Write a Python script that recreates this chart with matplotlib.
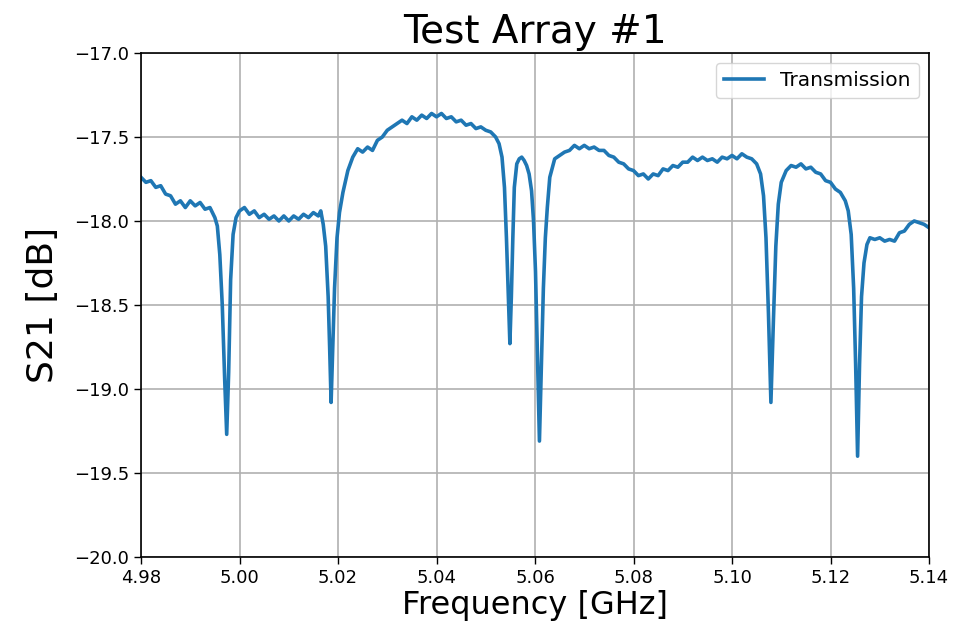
import matplotlib
matplotlib.use("Agg")
import matplotlib.pyplot as plt

freq_ghz = [
    4.980, 4.981, 4.982, 4.983, 4.984, 4.985, 4.986, 4.987, 4.988, 4.989,
    4.990, 4.991, 4.992, 4.993, 4.994, 4.995, 4.9955, 4.996, 4.9965, 4.997,
    4.9974, 4.9978, 4.9982, 4.9987, 4.9993, 5.000, 5.001, 5.002, 5.003, 5.004,
    5.005, 5.006, 5.007, 5.008, 5.009, 5.010, 5.011, 5.012, 5.013, 5.014,
    5.015, 5.016, 5.0165, 5.017, 5.0175, 5.018, 5.0183, 5.0186, 5.0189, 5.0193,
    5.0198, 5.0203, 5.021, 5.022, 5.023, 5.024, 5.025, 5.026, 5.027, 5.028,
    5.029, 5.030, 5.031, 5.032, 5.033, 5.034, 5.035, 5.036, 5.037, 5.038,
    5.039, 5.040, 5.041, 5.042, 5.043, 5.044, 5.045, 5.046, 5.047, 5.048,
    5.049, 5.050, 5.051, 5.052, 5.0527, 5.0533, 5.0538, 5.0542, 5.0546, 5.0549,
    5.0552, 5.0555, 5.0558, 5.0563, 5.0568, 5.0573, 5.0578, 5.0583, 5.0588, 5.0593,
    5.0597, 5.0601, 5.0605, 5.0609, 5.0613, 5.0617, 5.0621, 5.0625, 5.063, 5.064,
    5.065, 5.066, 5.067, 5.068, 5.069, 5.070, 5.071, 5.072, 5.073, 5.074,
    5.075, 5.076, 5.077, 5.078, 5.079, 5.080, 5.081, 5.082, 5.083, 5.084,
    5.085, 5.086, 5.087, 5.088, 5.089, 5.090, 5.091, 5.092, 5.093, 5.094,
    5.095, 5.096, 5.097, 5.098, 5.099, 5.100, 5.101, 5.102, 5.103, 5.104,
    5.105, 5.1058, 5.1064, 5.1069, 5.1074, 5.1079, 5.1084, 5.1089, 5.1094, 5.1100,
    5.111, 5.112, 5.113, 5.114, 5.115, 5.116, 5.117, 5.118, 5.119, 5.120,
    5.121, 5.122, 5.123, 5.1236, 5.1242, 5.1247, 5.1251, 5.1255, 5.1259, 5.1263,
    5.1268, 5.1274, 5.128, 5.129, 5.130, 5.131, 5.132, 5.133, 5.134, 5.135,
    5.136, 5.137, 5.138, 5.139, 5.140,
]

s21_db = [
    -17.74, -17.77, -17.76, -17.80, -17.79, -17.84, -17.85, -17.90, -17.88, -17.92,
    -17.88, -17.91, -17.89, -17.93, -17.92, -17.98, -18.03, -18.20, -18.50, -18.95,
    -19.27, -18.90, -18.35, -18.08, -17.98, -17.94, -17.92, -17.96, -17.94, -17.98,
    -17.96, -17.99, -17.97, -18.00, -17.97, -18.00, -17.97, -17.99, -17.96, -17.98,
    -17.95, -17.97, -17.94, -18.02, -18.15, -18.45, -18.75, -19.08, -18.78, -18.40,
    -18.10, -17.95, -17.83, -17.70, -17.62, -17.57, -17.59, -17.56, -17.58, -17.52,
    -17.50, -17.46, -17.44, -17.42, -17.40, -17.42, -17.38, -17.40, -17.37, -17.39,
    -17.36, -17.38, -17.36, -17.39, -17.38, -17.41, -17.40, -17.43, -17.42, -17.45,
    -17.44, -17.46, -17.47, -17.50, -17.54, -17.62, -17.80, -18.10, -18.45, -18.73,
    -18.45, -18.10, -17.80, -17.66, -17.63, -17.62, -17.64, -17.67, -17.72, -17.82,
    -18.00, -18.30, -18.80, -19.31, -18.85, -18.40, -18.10, -17.92, -17.74, -17.63,
    -17.61, -17.59, -17.58, -17.55, -17.57, -17.55, -17.57, -17.56, -17.58, -17.58,
    -17.61, -17.62, -17.65, -17.66, -17.69, -17.70, -17.73, -17.72, -17.75, -17.72,
    -17.73, -17.69, -17.70, -17.67, -17.68, -17.65, -17.65, -17.62, -17.64, -17.62,
    -17.64, -17.63, -17.65, -17.62, -17.63, -17.61, -17.63, -17.60, -17.62, -17.63,
    -17.66, -17.72, -17.85, -18.10, -18.55, -19.08, -18.60, -18.15, -17.90, -17.77,
    -17.70, -17.67, -17.68, -17.66, -17.69, -17.68, -17.71, -17.72, -17.76, -17.77,
    -17.81, -17.83, -17.88, -17.94, -18.08, -18.40, -18.85, -19.40, -18.85, -18.45,
    -18.25, -18.14, -18.10, -18.11, -18.10, -18.12, -18.11, -18.12, -18.07, -18.06,
    -18.02, -18.00, -18.01, -18.02, -18.04,
]

x_ticks = [4.98, 5.00, 5.02, 5.04, 5.06, 5.08, 5.10, 5.12, 5.14]
y_ticks = [-20.0, -19.5, -19.0, -18.5, -18.0, -17.5, -17.0]

fig = plt.figure(figsize=(9.54, 6.24), dpi=100)
ax = fig.add_axes([0.1478, 0.1074, 0.8260, 0.8077])

ax.plot(freq_ghz, s21_db, color="#1f77b4", linewidth=2.6, label="Transmission")

ax.set_xlim(4.98, 5.14)
ax.set_ylim(-20.0, -17.0)
ax.set_xticks(x_ticks)
ax.set_xticklabels([f"{v:.2f}" for v in x_ticks])
ax.set_yticks(y_ticks)
ax.set_yticklabels([f"{v:.1f}".replace("-", "\u2212") for v in y_ticks])
ax.tick_params(labelsize=13, length=5, width=1)
ax.grid(True, color="#b0b0b0", linewidth=1.2)
for s in ax.spines.values():
    s.set_linewidth(1.2)

ax.set_title("Test Array #1", fontsize=28, pad=7)
ax.set_xlabel("Frequency [GHz]", fontsize=23, labelpad=2)
ax.set_ylabel("S21 [dB]", fontsize=26, labelpad=10)
ax.legend(loc="upper right", fontsize=14.5)

fig.savefig("out.png", dpi=100)
